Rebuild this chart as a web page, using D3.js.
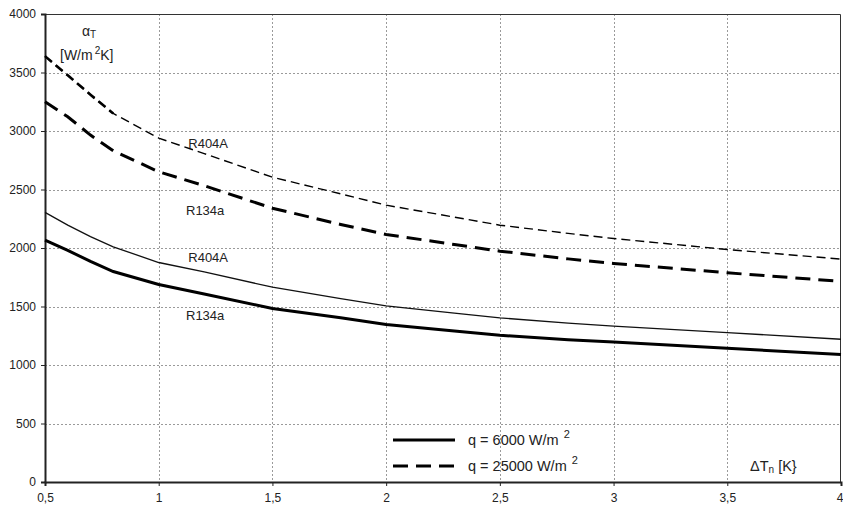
<!DOCTYPE html>
<html>
<head>
<meta charset="utf-8">
<script src="https://cdn.jsdelivr.net/npm/d3@7"></script>
<style>
  html, body { margin: 0; padding: 0; background: #fff; }
  svg text { font-family: Arial, "Liberation Sans", sans-serif; fill: #222; }
</style>
</head>
<body>
<svg id="chart" width="843" height="509"></svg>
<script>
// Temperature difference ΔTn [K]
const deltaT = [0.5, 0.6, 0.7, 0.8, 1.0, 1.2, 1.5, 1.8, 2.0, 2.3, 2.5, 2.8, 3.0, 3.5, 4.0];

// Heat transfer coefficient αT [W/m²K]
const r404aHigh = [3640, 3476, 3310, 3150, 2939, 2807, 2605, 2463, 2366, 2264, 2195, 2125, 2081, 1987, 1905]; // q = 25000
const r134aHigh = [3250, 3122, 2965, 2832, 2651, 2533, 2340, 2201, 2116, 2030, 1973, 1907, 1868, 1788, 1715]; // q = 25000
const r404aLow  = [2304, 2195, 2097, 2010, 1876, 1796, 1665, 1567, 1505, 1444, 1403, 1358, 1332, 1277, 1220]; // q = 6000
const r134aLow  = [2067, 1980, 1885, 1799, 1688, 1607, 1483, 1403, 1346, 1291, 1254, 1215, 1197, 1143, 1089]; // q = 6000

const xTicks = [0.5, 1, 1.5, 2, 2.5, 3, 3.5, 4];
const xTickLabels = ["0,5", "1", "1,5", "2", "2,5", "3", "3,5", "4"];
const yTicks = [0, 500, 1000, 1500, 2000, 2500, 3000, 3500, 4000];

const seriesLabels = [
  { text: "R404A", x: 1.13, y: 2855 },
  { text: "R134a", x: 1.12, y: 2282 },
  { text: "R404A", x: 1.13, y: 1884 },
  { text: "R134a", x: 1.12, y: 1385 }
];

const svg = d3.select("#chart");
const plotLeft = 45, plotRight = 841, plotTop = 14, plotBottom = 482;

const x = d3.scaleLinear().domain([0.5, 4]).range([plotLeft, plotRight]);
const y = d3.scaleLinear().domain([0, 4000]).range([plotBottom, plotTop]);

// grid
const grid = svg.append("g").attr("stroke", "#9a9a9a").attr("stroke-width", 1)
  .attr("stroke-dasharray", "2,2").attr("shape-rendering", "crispEdges");
grid.selectAll("line.h").data(yTicks.slice(1, -1)).join("line")
  .attr("class", "h")
  .attr("x1", plotLeft).attr("x2", plotRight)
  .attr("y1", d => Math.round(y(d)) + 0.5).attr("y2", d => Math.round(y(d)) + 0.5);
grid.selectAll("line.v").data(xTicks.slice(1, -1)).join("line")
  .attr("class", "v")
  .attr("y1", plotTop).attr("y2", plotBottom)
  .attr("x1", d => Math.round(x(d)) + 0.5).attr("x2", d => Math.round(x(d)) + 0.5);

// frame: top and right
svg.append("path")
  .attr("d", `M${plotLeft},${plotTop + 0.5}H${plotRight - 0.5}V${plotBottom}`)
  .attr("fill", "none").attr("stroke", "#333").attr("stroke-width", 1);

// axes
const xAxis = d3.axisBottom(x).tickValues(xTicks)
  .tickFormat((d, i) => xTickLabels[i]).tickSize(4).tickPadding(7);
const gx = svg.append("g").attr("transform", `translate(0,${plotBottom})`).call(xAxis);
gx.select(".domain").attr("stroke", "#222").attr("stroke-width", 2);
gx.selectAll(".tick line").attr("stroke", "#222");
gx.selectAll("text").attr("font-size", 12).style("fill", "#222");
gx.selectAll(".tick").filter(d => d === 4).select("text")
  .attr("text-anchor", "end").attr("x", 2);

const yAxis = d3.axisLeft(y).tickValues(yTicks).tickFormat(d3.format("d"))
  .tickSize(4).tickPadding(5);
const gy = svg.append("g").attr("transform", `translate(${plotLeft},0)`).call(yAxis);
gy.select(".domain").attr("stroke", "#222").attr("stroke-width", 2);
gy.selectAll(".tick line").attr("stroke", "#222");
gy.selectAll("text").attr("font-size", 12).style("fill", "#222");

// curves
const line = d3.line().x((d, i) => x(deltaT[i])).y(d => y(d));
const lineStart = vals => line(vals.filter((v, i) => deltaT[i] <= 0.8));

svg.append("path").attr("d", line(r404aLow)).attr("fill", "none")
  .attr("stroke", "#111").attr("stroke-width", 1.3);
svg.append("path").attr("d", line(r134aLow)).attr("fill", "none")
  .attr("stroke", "#000").attr("stroke-width", 3);

svg.append("path").attr("d", line(r404aHigh)).attr("fill", "none")
  .attr("stroke", "#000").attr("stroke-width", 1.4).attr("stroke-dasharray", "9,5");
svg.append("path").attr("d", lineStart(r404aHigh)).attr("fill", "none")
  .attr("stroke", "#000").attr("stroke-width", 2.6).attr("stroke-dasharray", "9,5");
svg.append("path").attr("d", line(r134aHigh)).attr("fill", "none")
  .attr("stroke", "#000").attr("stroke-width", 3).attr("stroke-dasharray", "15,8");

// curve labels
svg.selectAll("text.lbl").data(seriesLabels).join("text")
  .attr("class", "lbl")
  .attr("x", d => x(d.x)).attr("y", d => y(d.y))
  .attr("font-size", 13).text(d => d.text);

// y axis title
const ty = svg.append("text").attr("x", 82).attr("y", 36).attr("font-size", 14);
ty.append("tspan").text("α");
ty.append("tspan").attr("font-size", 10).attr("dy", 2).text("T");
const ty2 = svg.append("text").attr("x", 60).attr("y", 60).attr("font-size", 14);
ty2.append("tspan").text("[W/m");
ty2.append("tspan").attr("font-size", 10).attr("dx", 2).attr("dy", -6).text("2");
ty2.append("tspan").attr("dy", 6).text("K]");

// x axis title
const tx = svg.append("text").attr("x", 750).attr("y", 471).attr("font-size", 14.5);
tx.append("tspan").text("ΔT");
tx.append("tspan").attr("font-size", 10).attr("dy", 2).text("n");
tx.append("tspan").attr("dy", -2).text(" [K}");

// legend
const legend = [
  { label: "q = 6000 W/m", width: 3, dash: null, ly: 440 },
  { label: "q = 25000 W/m", width: 3, dash: "15,8", ly: 466 }
];
const lg = svg.append("g");
legend.forEach(d => {
  lg.append("line").attr("x1", 393).attr("x2", 455).attr("y1", d.ly).attr("y2", d.ly)
    .attr("stroke", "#000").attr("stroke-width", d.width)
    .attr("stroke-dasharray", d.dash);
  const t = lg.append("text").attr("x", 468).attr("y", d.ly + 5).attr("font-size", 14.5);
  t.append("tspan").text(d.label);
  t.append("tspan").attr("font-size", 11).attr("dx", 5).attr("dy", -7).text("2");
});
</script>
</body>
</html>
